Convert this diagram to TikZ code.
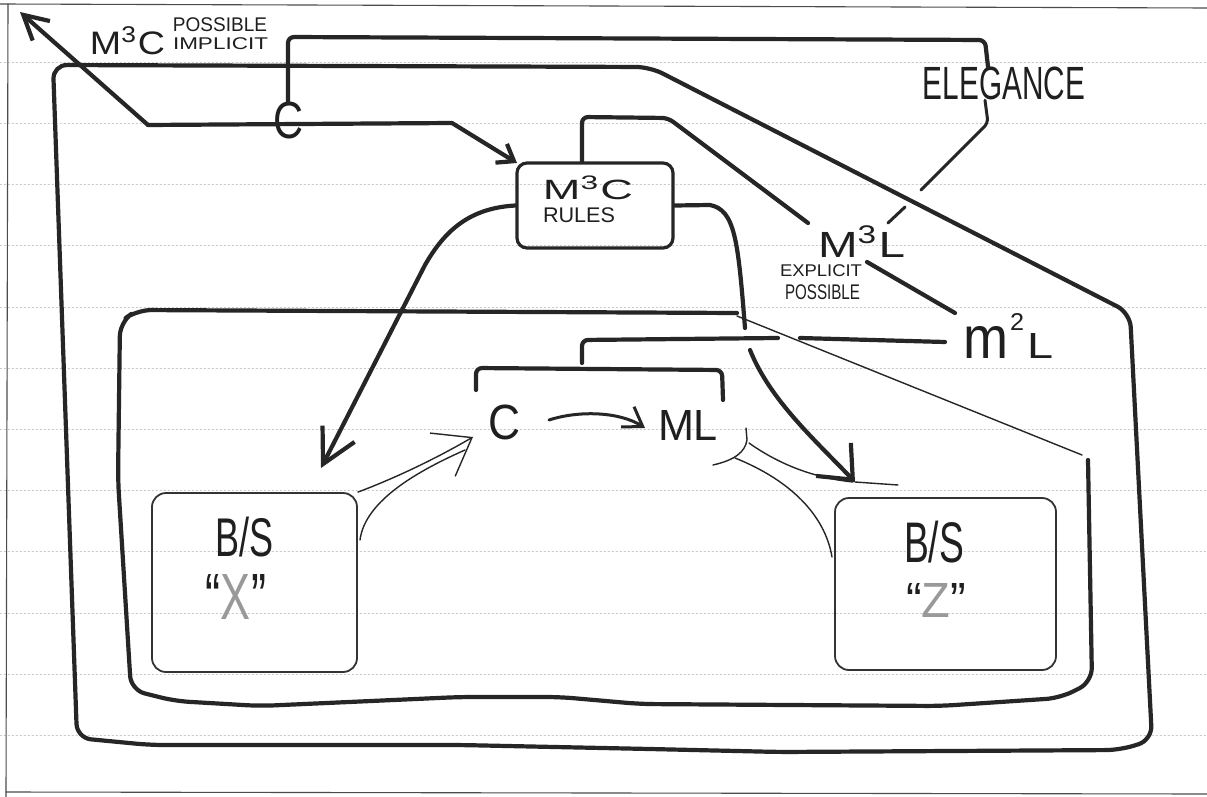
\documentclass[tikz,border=0pt]{standalone}
\usepackage{fontspec}
\setmainfont{Liberation Sans}
\usepackage{graphicx}
\usetikzlibrary{arrows.meta}
\newcommand{\fitbox}[3]{\resizebox*{#1pt}{#2pt}{#3}}
\begin{document}
\begin{tikzpicture}[x=1pt,y=-1pt,line cap=round,line join=round,
  ink/.style={draw=black!85},
  heavy/.style={ink,line width=4.2pt},
  medium/.style={ink,line width=3pt},
  fine/.style={ink,line width=1.4pt},
  paperrule/.style={draw=black!22,line width=0.6pt,dash pattern=on 1.5pt off 2.5pt},
  lbl/.style={inner sep=0pt,text=black!88},
  bsbox/.style={draw=black!80,line width=1.8pt,rounded corners=14pt,inner sep=0pt},
  rulesbox/.style={draw=black!85,line width=3.2pt,rounded corners=10pt,inner sep=0pt}
]
\useasboundingbox (0,0) rectangle (1207,797);
\fill[white] (0,0) rectangle (1207,797);
% ruled paper
\foreach \k in {0,...,11}{
  \draw[paperrule] (0,62+61.2*\k) -- (1207,62+61.2*\k);
}
% page edges
\draw[draw=black!70,line width=1.1pt] (0,4) -- (1207,8);
\draw[draw=black!70,line width=1.1pt] (8,4) -- (6,797);
\draw[draw=black!70,line width=1.1pt] (6,792) -- (1207,794);

% ---------- labels ----------
\node[lbl] (lblM3C) at (127.5,41) {\fitbox{75}{28}{M\textsuperscript{3}C}};
\node[lbl] (lblPossible) at (220,25) {\fitbox{94}{14}{POSSIBLE}};
\node[lbl] (lblImplicit) at (220.5,44) {\fitbox{95}{12}{IMPLICIT}};
\node[lbl] (cTop) at (288,121) {\fitbox{30}{37}{C}};
\node[lbl] (elegance) at (1004,83.5) {\fitbox{162}{33}{ELEGANCE}};
\node[rulesbox,minimum width=156pt,minimum height=85pt] (rules) at (595,205.5) {};
\node[lbl] (rulesM3C) at (588,188) {\fitbox{90}{24}{M\textsuperscript{3}C}};
\node[lbl] (rulesRules) at (579,215) {\fitbox{72}{15}{RULES}};
\node[lbl] (m3L) at (861.5,241.5) {\fitbox{87}{31}{M\textsuperscript{3}L}};
\node[lbl] (explicit) at (821,271) {\fitbox{82}{12}{EXPLICIT}};
\node[lbl] (possibleB) at (822.5,292) {\fitbox{75}{15}{POSSIBLE}};
\node[lbl,anchor=base west] (m2L) at (963,358) {\fitbox{45}{32}{m}\hspace{2pt}\raisebox{28pt}{\fitbox{14}{17}{2}}\hspace{3pt}\fitbox{26}{25}{L}};
\node[lbl] (cIn) at (504,422.5) {\fitbox{32}{35}{C}};
\node[lbl] (mlIn) at (688,425) {\fitbox{60}{30}{ML}};
\node[bsbox,minimum width=205pt,minimum height=179pt] (boxX) at (254.5,582.5) {};
\node[lbl] (bsX) at (244,537) {\fitbox{58}{40}{B/S}};
\node[lbl] (qX) at (236,597) {\fitbox{60}{45}{``\textcolor{black!40}{X}''}};
\node[bsbox,minimum width=221pt,minimum height=172pt] (boxZ) at (945.5,584) {};
\node[lbl] (bsZ) at (934,542) {\fitbox{60}{42}{B/S}};
\node[lbl] (qZ) at (936,600) {\fitbox{60}{34}{``\textcolor{black!40}{Z}''}};

% ---------- coordinates ----------
\coordinate (split) at (148,125);
\coordinate (tl) at (20,12);
\coordinate (bendA) at (452,123);
\coordinate (rulesIn) at (517,163);

% ---------- frames ----------
\draw[heavy,rounded corners=14pt] (53,65) -- (650,67) -- (1130,313) -- (1152,740)
  -- (1120,750) -- (780,752) -- (650,749) -- (460,745) -- (150,745) -- (77,738) -- cycle;
\draw[heavy,rounded corners=14pt] (737,313) -- (137,310) -- (120,322) -- (118,480)
  -- (131,690) -- (175,701) -- (260,706) -- (460,697) -- (560,697) -- (640,704)
  -- (940,706) -- (1060,698) -- (1092,682) -- (1088,460);
\draw[fine] (737,316) -- (1082,455);

% ---------- top connectors ----------
\draw[heavy,-{Straight Barb[length=24pt,width=26pt]}] (split) -- (tl);
\draw[heavy,-{Straight Barb[length=15pt,width=22pt]}] (split) -- (bendA) -- (rulesIn);
\draw[heavy,rounded corners=6pt] (cTop.north) -- (288,37) -- (985,40) -- ([xshift=-16pt]elegance.north);
\draw[heavy,rounded corners=6pt] (rules.north -| 582,0) -- (582,117) -- (668,118) -- (808,223);
\draw[medium,rounded corners=5pt] ([xshift=-19pt]elegance.south) -- (988,123) -- (921,190);
\draw[medium] (905,207) -- (888,223);
\draw[heavy] (867,262) -- (955,313);

% ---------- rules arrows ----------
\draw[heavy,-{Straight Barb[length=34pt,width=36pt]}] (rules.west)
  .. controls (470,208) and (445,230) .. (425,265) -- (321,468);
\draw[heavy] (rules.east) -- (710,205) .. controls (735,210) and (738,240) .. (745,328);
\draw[heavy,-{Straight Barb[length=28pt,width=48pt]}] (750,350)
  .. controls (770,400) and (815,440) .. (855,482);
\draw[fine] (855,482) -- (898,485);

% ---------- brackets ----------
\draw[heavy,rounded corners=6pt] (476,390) -- (476,368) -- (722,370) -- (723,400);
\draw[heavy,rounded corners=6pt] (582,363) -- (582,340) -- (778,338);
\draw[heavy] (800,338) -- (945,342);

% ---------- C -> ML ----------
\draw[medium,-{Straight Barb[length=18pt,width=24pt]}] (549,420)
  .. controls (580,410) and (620,412) .. (645,428);

% ---------- funnels ----------
\draw[fine,-{Straight Barb[length=34pt,width=50pt]}] (boxX.north east)
  .. controls (390,480) and (430,462) .. (473,437);
\draw[fine] (360,540) .. controls (365,500) and (420,470) .. (465,450);
\draw[fine] (713,465) .. controls (735,460) and (745,452) .. (747,440) -- (746,428);
\draw[fine] (749,443) .. controls (780,465) and (815,478) .. (853,482);
\draw[fine] (735,458) .. controls (790,480) and (825,515) .. (832,557);
\end{tikzpicture}
\end{document}
